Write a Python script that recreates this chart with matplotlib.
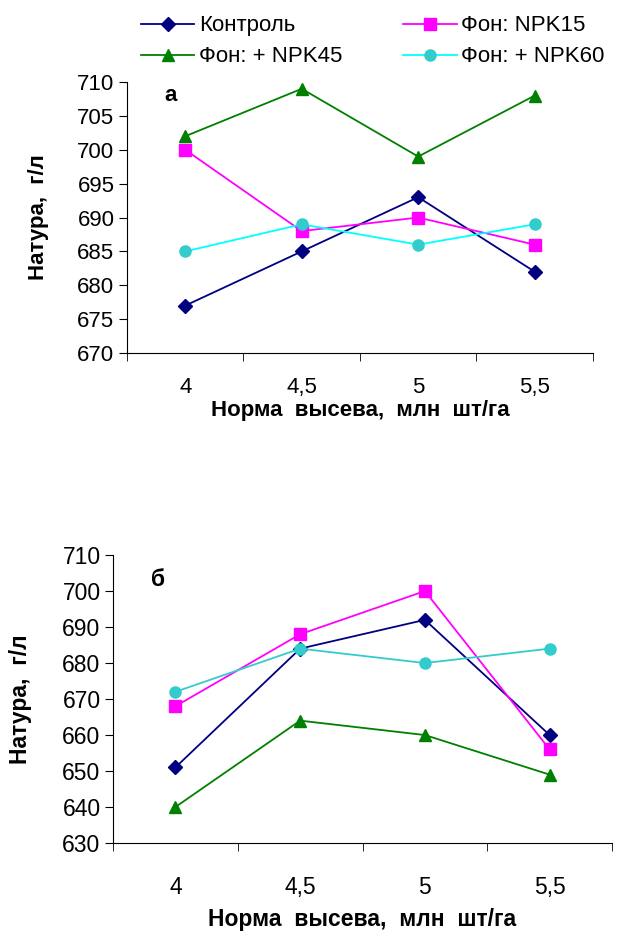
import numpy as np
import matplotlib.pyplot as plt

plt.rcParams['font.family'] = ['Liberation Sans', 'DejaVu Sans']

categories = ["4", "4,5", "5", "5,5"]
labels = ["Контроль", "Фон: NPK15", "Фон: + NPK45", "Фон: + NPK60"]

# panel а
a_control = [677, 685, 693, 682]
a_npk15 = [700, 688, 690, 686]
a_npk45 = [702, 709, 699, 708]
a_npk60 = [685, 689, 686, 689]

# panel б
b_control = [651, 684, 692, 660]
b_npk15 = [668, 688, 700, 656]
b_npk45 = [640, 664, 660, 649]
b_npk60 = [672, 684, 680, 684]

styles = [
    dict(color="#000080", marker="D", mfc="#000080", mec="#000080", ms=7),
    dict(color="#FF00FF", marker="s", mfc="#FF00FF", mec="#FF00FF", ms=8),
    dict(color="#008000", marker="^", mfc="#008000", mec="#008000", ms=9),
    dict(color="#00FFFF", marker="o", mfc="#33CCCC", mec="#33CCCC", ms=8),
]


def panel(ax, series, ylim, step, letter, fs, line60, xpad, lpad, ypad, lpos):
    x = np.arange(len(categories))
    lines = []
    for i, (y, st) in enumerate(zip(series, styles)):
        st = dict(st)
        if i == 3:
            st["color"] = line60
        ln, = ax.plot(x, y, lw=1.3, label=labels[i], **st)
        lines.append(ln)
    ax.set_xlim(-0.5, len(categories) - 0.5)
    ax.set_ylim(*ylim)
    ax.set_yticks(np.arange(ylim[0], ylim[1] + 1, step))
    ax.set_xticks(x)
    ax.set_xticklabels(categories)
    ax.set_xticks(np.arange(-0.5, len(categories), 1), minor=True)
    ax.tick_params(axis="x", which="major", length=0, pad=xpad, labelsize=fs)
    ax.tick_params(axis="x", which="minor", length=6, direction="out")
    ax.tick_params(axis="y", length=6, direction="out", labelsize=fs, pad=3)
    for s in ["top", "right"]:
        ax.spines[s].set_visible(False)
    ax.set_xlabel("Норма  высева,  млн  шт/га", fontsize=fs, fontweight="bold", labelpad=lpad)
    ax.set_ylabel("Натура,  г/л", fontsize=fs, fontweight="bold", labelpad=ypad)
    ax.text(lpos[0], lpos[1], letter, transform=ax.transAxes, fontsize=fs, fontweight="bold",
            va="top", ha="left")
    return lines


fig = plt.figure(figsize=(6.2, 9.31), dpi=100)

ax1 = fig.add_axes([0.2048, 0.6208, 0.7516, 0.2911])
lines = panel(ax1, [a_control, a_npk15, a_npk45, a_npk60], (670, 710), 5, "а", 16,
              "#00FFFF", 17, 2, 20, (0.08, 0.99))

ax2 = fig.add_axes([0.1823, 0.0945, 0.8048, 0.3093])
panel(ax2, [b_control, b_npk15, b_npk45, b_npk60], (630, 710), 10, "б", 16.5,
      "#33CCCC", 24, 6, 22, (0.076, 0.955))

order = [0, 2, 1, 3]
fig.legend([lines[i] for i in order], [labels[i] for i in order], ncol=2,
           loc="upper left", bbox_to_anchor=(0.213, 0.993), frameon=False,
           fontsize=16, handlelength=2.4, handletextpad=0.2,
           columnspacing=2.75, labelspacing=0.45, borderaxespad=0)

fig.savefig("out.png", dpi=100)
